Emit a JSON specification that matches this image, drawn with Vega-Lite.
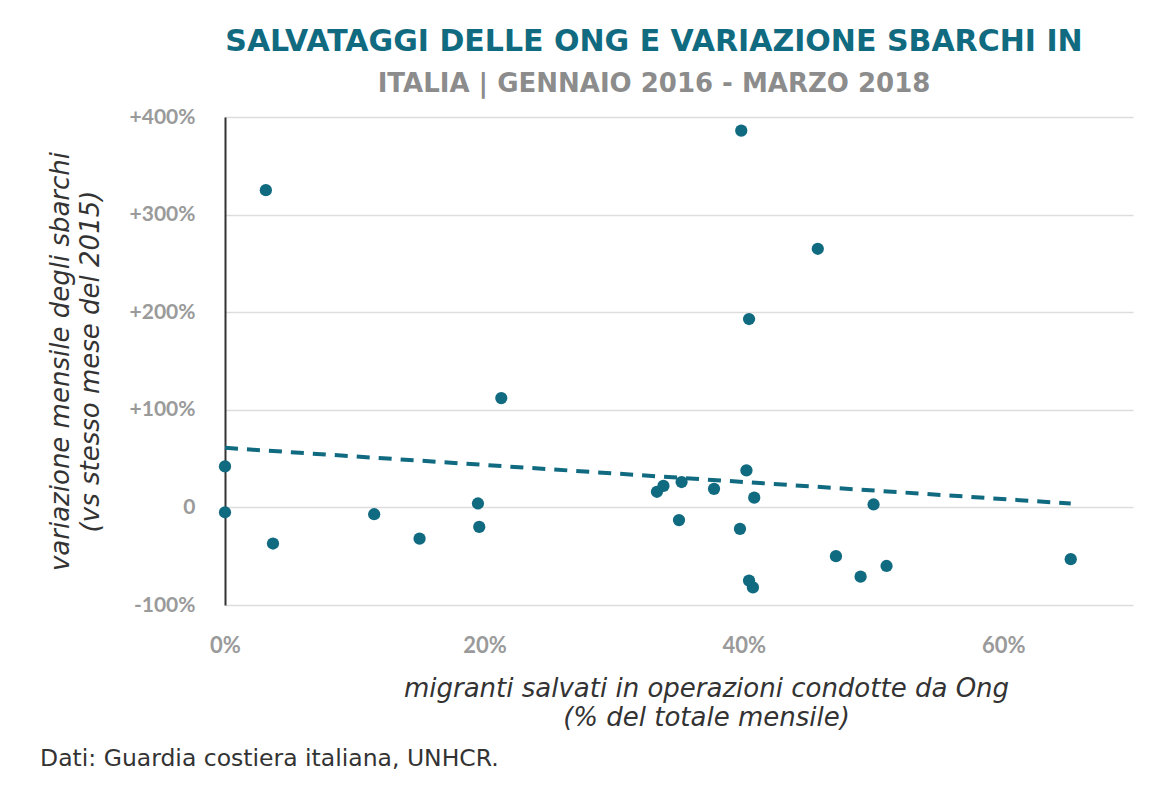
{
  "$schema": "https://vega.github.io/schema/vega-lite/v6.json",
  "background": "white",
  "padding": {"left": 40, "top": 27, "right": 10, "bottom": 10},
  "title": {
    "text": "Dati: Guardia costiera italiana, UNHCR.",
    "orient": "bottom",
    "anchor": "start",
    "frame": "bounds",
    "dx": -7,
    "font": "DejaVu Sans",
    "fontSize": 23.5,
    "fontWeight": "normal",
    "color": "#333333",
    "offset": 17
  },
  "datasets": {
    "points": [
      {"ong": 0.0, "var": 42},
      {"ong": 0.0, "var": -5},
      {"ong": 3.15, "var": 325},
      {"ong": 3.7, "var": -37},
      {"ong": 11.5, "var": -7},
      {"ong": 15.0, "var": -32},
      {"ong": 19.5, "var": 4},
      {"ong": 19.6, "var": -20},
      {"ong": 21.3, "var": 112},
      {"ong": 33.3, "var": 16},
      {"ong": 33.8, "var": 22},
      {"ong": 35.0, "var": -13},
      {"ong": 35.2, "var": 26},
      {"ong": 37.7, "var": 19},
      {"ong": 39.7, "var": -22},
      {"ong": 39.8, "var": 386},
      {"ong": 40.2, "var": 38},
      {"ong": 40.4, "var": 193},
      {"ong": 40.4, "var": -75},
      {"ong": 40.7, "var": -82},
      {"ong": 40.8, "var": 10},
      {"ong": 45.7, "var": 265},
      {"ong": 47.1, "var": -50},
      {"ong": 49.0, "var": -71},
      {"ong": 50.0, "var": 3},
      {"ong": 51.0, "var": -60},
      {"ong": 65.2, "var": -53}
    ],
    "trend": [
      {"ong": 0, "var": 61},
      {"ong": 65.2, "var": 4}
    ]
  },
  "vconcat": [
    {
      "width": 908,
      "height": 488,
      "title": {
        "text": "SALVATAGGI DELLE ONG E VARIAZIONE SBARCHI IN",
        "subtitle": "ITALIA | GENNAIO 2016 - MARZO 2018",
        "anchor": "middle",
        "frame": "group",
        "dx": -25,
        "font": "DejaVu Sans",
        "fontSize": 30,
        "fontWeight": "bold",
        "color": "#106a80",
        "subtitleFont": "DejaVu Sans",
        "subtitleFontSize": 26,
        "subtitleFontWeight": "bold",
        "subtitleColor": "#8c8c8c",
        "subtitlePadding": 14,
        "offset": 9
      },
      "layer": [
        {
          "mark": {"type": "rule", "color": "#333333", "strokeWidth": 2},
          "encoding": {"y": {"datum": 0, "type": "quantitative"}}
        },
        {
          "data": {"name": "trend"},
          "mark": {"type": "line", "color": "#106a80", "strokeWidth": 4, "strokeDash": [13, 9]},
          "encoding": {
            "x": {"field": "ong", "type": "quantitative"},
            "y": {"field": "var", "type": "quantitative"}
          }
        },
        {
          "data": {"name": "points"},
          "mark": {"type": "circle", "size": 150, "opacity": 1, "color": "#106a80"},
          "encoding": {
            "x": {
              "field": "ong",
              "type": "quantitative",
              "scale": {"domain": [0, 70], "nice": false, "zero": false},
              "axis": {
                "values": [0, 20, 40, 60],
                "labelExpr": "datum.value + '%'",
                "labelFlush": false,
                "grid": false,
                "domain": false,
                "ticks": false,
                "labelPadding": 30,
                "labelFont": "Lato",
                "labelFontSize": 22,
                "labelFontWeight": "bold",
                "labelColor": "#9a9a9a",
                "title": ["migranti salvati in operazioni condotte da Ong", "(% del totale mensile)"],
                "titleFont": "DejaVu Sans",
                "titleFontSize": 26,
                "titleFontStyle": "italic",
                "titleFontWeight": "normal",
                "titleColor": "#333333",
                "titlePadding": 19,
                "titleLineHeight": 29,
                "titleX": 481
              }
            },
            "y": {
              "field": "var",
              "type": "quantitative",
              "scale": {"domain": [-100, 400], "nice": false},
              "axis": {
                "values": [-100, 0, 100, 200, 300, 400],
                "labelExpr": "datum.value > 0 ? '+' + datum.value + '%' : (datum.value == 0 ? '0' : datum.value + '%')",
                "labelFlush": false,
                "grid": true,
                "gridColor": "#dddddd",
                "gridWidth": 1.5,
                "domain": true,
                "domainColor": "#333333",
                "domainWidth": 2,
                "ticks": false,
                "labelPadding": 30,
                "labelFont": "Lato",
                "labelFontSize": 21,
                "labelFontWeight": "bold",
                "labelColor": "#9a9a9a",
                "title": ["variazione mensile degli sbarchi", "(vs stesso mese del 2015)"],
                "titleFont": "DejaVu Sans",
                "titleFontSize": 26,
                "titleFontStyle": "italic",
                "titleFontWeight": "normal",
                "titleColor": "#333333",
                "titlePadding": 26,
                "titleLineHeight": 30
              }
            }
          }
        }
      ]
    }
  ],
  "config": {
    "view": {"stroke": null}
  }
}
